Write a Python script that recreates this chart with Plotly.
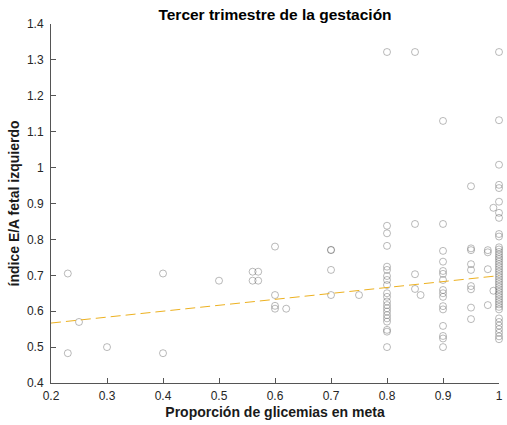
import plotly.graph_objects as go

# Proportion of glycemias on target (x) and fetal left E/A index (y)
x_low = [0.23, 0.23, 0.25, 0.30, 0.40, 0.40, 0.50, 0.56, 0.56, 0.57, 0.57,
         0.60, 0.60, 0.60, 0.60, 0.62, 0.70, 0.70, 0.70, 0.70, 0.75]
y_low = [0.705, 0.483, 0.570, 0.500, 0.705, 0.483, 0.685, 0.710, 0.685, 0.710, 0.685,
         0.780, 0.645, 0.615, 0.607, 0.607, 0.770, 0.771, 0.715, 0.645, 0.645]

y_080 = [1.322, 0.838, 0.817, 0.782, 0.724, 0.715, 0.698, 0.687, 0.673, 0.650, 0.640,
         0.627, 0.617, 0.608, 0.599, 0.589, 0.580, 0.571, 0.548, 0.543, 0.500]
x_085 = [0.85, 0.85, 0.85, 0.85, 0.86]
y_085 = [1.322, 0.843, 0.703, 0.662, 0.645]
y_090 = [1.130, 0.843, 0.768, 0.738, 0.712, 0.704, 0.687, 0.659, 0.650, 0.640,
         0.614, 0.605, 0.559, 0.531, 0.524, 0.500]
y_095 = [0.948, 0.775, 0.770, 0.731, 0.715, 0.670, 0.661, 0.610, 0.578]
x_098 = [0.98, 0.98, 0.98, 0.98, 0.99, 0.99]
y_098 = [0.770, 0.764, 0.717, 0.617, 0.657, 0.888]
y_100 = [1.322, 1.132, 1.008, 0.952, 0.943, 0.905, 0.874, 0.860, 0.815, 0.808,
         0.778, 0.772, 0.765, 0.758, 0.751, 0.745, 0.738, 0.731, 0.724, 0.717,
         0.710, 0.703, 0.696, 0.689, 0.682, 0.675, 0.668, 0.661, 0.654, 0.647,
         0.640, 0.633, 0.626, 0.619, 0.612, 0.605, 0.580, 0.570, 0.560, 0.550,
         0.540, 0.530, 0.522]

# Linear trend
trend_x = [0.2, 1.0]
trend_y = [0.567, 0.699]

xs = (x_low + [0.8] * len(y_080) + x_085 + [0.9] * len(y_090)
      + [0.95] * len(y_095) + x_098 + [1.0] * len(y_100))
ys = y_low + y_080 + y_085 + y_090 + y_095 + y_098 + y_100

x_ticks = [0.2, 0.3, 0.4, 0.5, 0.6, 0.7, 0.8, 0.9, 1]
x_ticklabels = ["0.2", "0.3", "0.4", "0.5", "0.6", "0.7", "0.8", "0.9", "1"]
y_ticks = [0.4, 0.5, 0.6, 0.7, 0.8, 0.9, 1.0, 1.1, 1.2, 1.3, 1.4]
y_ticklabels = ["0.4", "0.5", "0.6", "0.7", "0.8", "0.9", "1", "1.1", "1.2", "1.3", "1.4"]

FONT = "Liberation Sans, Arial, sans-serif"

fig = go.Figure()
fig.add_trace(go.Scatter(
    x=xs, y=ys, mode="markers", cliponaxis=False,
    marker=dict(symbol="circle-open", size=7,
                color="rgba(90,90,90,0.42)", line=dict(width=1)),
    showlegend=False, hoverinfo="skip"))
fig.add_trace(go.Scatter(
    x=trend_x, y=trend_y, mode="lines",
    line=dict(color="#EDB120", width=1, dash="10px,5px"),
    showlegend=False, hoverinfo="skip"))

axis_common = dict(
    showgrid=False, zeroline=False, showline=True, linecolor="#555555", linewidth=1,
    ticks="inside", ticklen=5, tickwidth=1, tickcolor="#555555",
    tickfont=dict(family=FONT, size=12, color="#262626"),
    mirror=False,
)
fig.update_xaxes(range=[0.2, 1.0], tickvals=x_ticks, ticktext=x_ticklabels,
                 ticklabelstandoff=2,
                 title=dict(text="<b>Proporción de glicemias en meta</b>", standoff=4,
                            font=dict(family=FONT, size=14, color="#1a1a1a")),
                 **axis_common)
fig.update_yaxes(range=[0.4, 1.4], tickvals=y_ticks, ticktext=y_ticklabels,
                 ticklabelstandoff=4,
                 title=dict(text="<b>índice E/A fetal izquierdo</b>", standoff=4,
                            font=dict(family=FONT, size=14, color="#1a1a1a")),
                 **axis_common)
fig.update_layout(
    width=507, height=425,
    margin=dict(l=51, r=4, t=24, b=42),
    paper_bgcolor="white", plot_bgcolor="white",
    title=dict(text="<b>Tercer trimestre de la gestación</b>", x=0.5, xref="paper",
               y=1, yref="container", yanchor="top", pad=dict(t=9),
               font=dict(family=FONT, size=15.5, color="#000000")),
)
fig.write_html("out.html")
